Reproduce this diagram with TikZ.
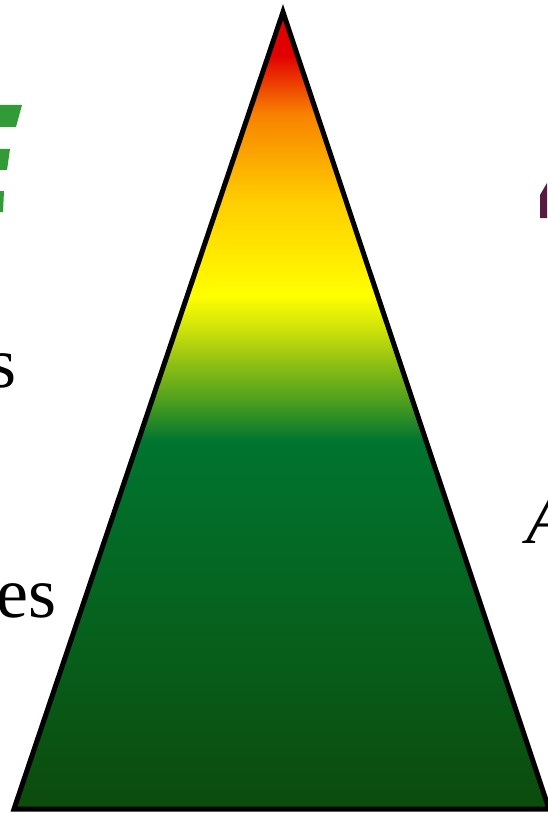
\documentclass[tikz,border=0pt]{standalone}
\usepackage{fontspec}
\setmainfont{Liberation Serif}
\definecolor{cA}{RGB}{12,75,12}
\definecolor{cB}{RGB}{6,98,30}
\definecolor{cC}{RGB}{0,116,48}
\definecolor{cD}{RGB}{80,160,30}
\definecolor{cE}{RGB}{140,190,20}
\definecolor{cF}{RGB}{205,225,10}
\definecolor{cG}{RGB}{255,255,0}
\definecolor{cH}{RGB}{255,205,0}
\definecolor{cI}{RGB}{248,130,0}
\definecolor{cJ}{RGB}{225,0,0}
\definecolor{leafgreen}{RGB}{50,155,55}
\definecolor{plum}{RGB}{90,25,65}
\pgfdeclareverticalshading{pyramid}{100bp}{color(0bp)=(cA); color(25bp)=(cA); color(36.9bp)=(cB); color(48.1bp)=(cC); color(50.7bp)=(cD); color(52.85bp)=(cE); color(55.05bp)=(cF); color(57.2bp)=(cG); color(63.2bp)=(cH); color(68.6bp)=(cI); color(72.3bp)=(cJ); color(100bp)=(cJ)}
\tikzset{
  lbl/.style={font=\fontsize{72}{86}\selectfont, inner sep=0pt, text=black},
  tri/.style={draw=black, line width=5pt, miter limit=20, line join=miter, shading=pyramid},
  deco/.style={draw=none}
}
\begin{document}
\begin{tikzpicture}[x=1pt,y=-1pt]
\useasboundingbox (0,0) rectangle (547,813);
% triangle
\coordinate (apex) at (283,12);
\coordinate (bl) at (14,809);
\coordinate (br) at (549,809);
\path[tri] (apex) -- (bl) -- (br) -- cycle;
% green marks on the left
\fill[leafgreen] (0,105) -- (22,105) -- (16,127) -- (0,127) -- cycle;
\fill[leafgreen] (0,149) -- (10,149) -- (7,170) -- (0,170) -- cycle;
\fill[leafgreen] (0,191) -- (4,191) -- (3,212) -- (0,212) -- cycle;
% plum mark on the right
\fill[plum] (540,202) -- (540,195) -- (547,183) -- (547,218) -- (540,218) -- cycle;
% texts
\node[lbl, anchor=base east] (t1) at (17,387) {s};
\node[lbl, anchor=base east] (t2) at (57,617) {es};
\node[lbl, anchor=base west] (t3) at (526,543) {\itshape A};
\end{tikzpicture}
\end{document}
